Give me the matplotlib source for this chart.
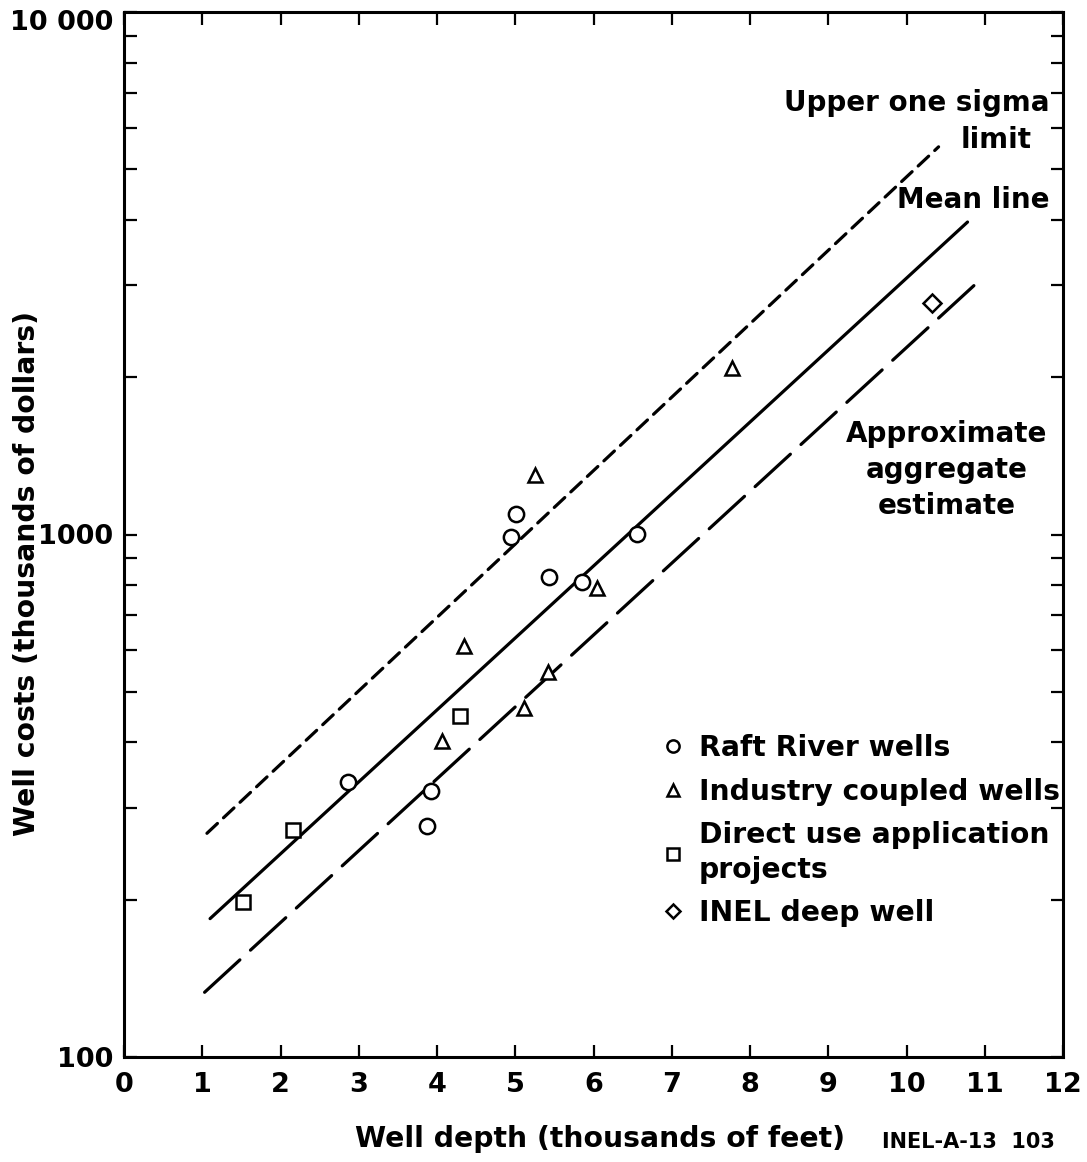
import numpy as np
import matplotlib
matplotlib.use("Agg")
import matplotlib.pyplot as plt
import matplotlib.transforms as mtransforms
from matplotlib.ticker import FixedLocator, NullFormatter

plt.rcParams['font.family'] = ['DejaVu Sans']
plt.rcParams['font.weight'] = 'bold'

# ---- data ----
raft_x = [2.86, 3.92, 3.87, 4.94, 5.01, 5.43, 5.85, 6.56]
raft_y = [336, 323, 277, 989, 1094, 829, 811, 1002]

industry_x = [4.06, 4.34, 5.11, 5.42, 5.25, 6.04, 7.77]
industry_y = [403, 612, 466, 546, 1300, 791, 2083]

direct_x = [1.52, 2.16, 4.29]
direct_y = [198, 272, 450]

inel_x = [10.33]
inel_y = [2774]

upper_x = [1.06, 10.41]
upper_y = [268, 5520]
mean_x = [1.1, 10.78]
mean_y = [184, 3963]
lower_x = [1.03, 10.91]
lower_y = [133, 3041]

x_ticks = list(range(0, 13))
y_major = [100, 1000, 10000]
y_major_labels = ["100", "1000", "10 000"]
y_minor = [200, 300, 400, 500, 600, 700, 800, 900,
           2000, 3000, 4000, 5000, 6000, 7000, 8000, 9000]

# ---- figure ----
W, H = 1087, 1162
fig = plt.figure(figsize=(W / 100, H / 100), dpi=100)
ax = fig.add_axes([124 / W, (H - 1057) / H, 939 / W, 1045 / H])
ax.set_yscale('log')
ax.set_xlim(0, 12)
ax.set_ylim(100, 10000)

lw = 2.3
ax.plot(upper_x, upper_y, color='black', lw=lw, dashes=(4.5, 2.6), dash_capstyle='round')
ax.plot(mean_x, mean_y, color='black', lw=lw, solid_capstyle='round')
ax.plot(lower_x, lower_y, color='black', lw=lw, dashes=(15, 4.5), dash_capstyle='round')

mk = dict(linestyle='none', markerfacecolor='white', markeredgecolor='black', markeredgewidth=1.8)
h1, = ax.plot(raft_x, raft_y, marker='o', markersize=11, label='Raft River wells', **mk)
h2, = ax.plot(industry_x, industry_y, marker='^', markersize=10, label='Industry coupled wells', **mk)
h3, = ax.plot(direct_x, direct_y, marker='s', markersize=10, label='Direct use application\nprojects', **mk)
h4, = ax.plot(inel_x, inel_y, marker='D', markersize=9, label='INEL deep well', **mk)

leg = ax.legend(handles=[h1, h2, h3, h4], loc='upper left',
                bbox_to_anchor=(0.573, 0.309), frameon=False,
                prop={'size': 20.3, 'weight': 'bold'},
                handlelength=0.8, handletextpad=0.5, labelspacing=0.55,
                borderpad=0, borderaxespad=0, markerscale=0.8)
for t in leg.get_texts():
    t.set_linespacing(1.3)

# ticks
ax.set_xticks(x_ticks)
ax.set_xticklabels([str(t) for t in x_ticks])
ax.yaxis.set_major_locator(FixedLocator(y_major))
ax.set_yticklabels(y_major_labels)
ax.yaxis.set_minor_locator(FixedLocator(y_minor))
ax.yaxis.set_minor_formatter(NullFormatter())
ax.tick_params(axis='both', which='both', direction='in', top=True, right=True,
               length=9, width=1.6, labelsize=19.5, color='black')
ax.tick_params(axis='x', pad=10.5)
ax.tick_params(axis='y', pad=8)
ax.tick_params(axis='x', which='minor', top=False, bottom=False)
for s in ax.spines.values():
    s.set_linewidth(2.2)

# the top label sits a little below its tick in the reference
shift = mtransforms.ScaledTranslation(0, -8 / 100, fig.dpi_scale_trans)
top_lbl = ax.get_yticklabels()[2]
top_lbl.set_transform(top_lbl.get_transform() + shift)

# annotations
fs = 20
ax.text(11.83, 6700, 'Upper one sigma', ha='right', va='center', fontsize=fs)
ax.text(11.14, 5690, 'limit', ha='center', va='center', fontsize=fs)
ax.text(11.83, 4366, 'Mean line', ha='right', va='center', fontsize=fs)
ax.text(10.51, 1328, 'Approximate\naggregate\nestimate', ha='center', va='center',
        fontsize=fs, linespacing=1.38)

fig.text(27 / W, 1 - 574 / H, 'Well costs (thousands of dollars)', rotation=90,
         ha='center', va='center', fontsize=20.3)
fig.text(600 / W, 1 - 1139 / H, 'Well depth (thousands of feet)',
         ha='center', va='center', fontsize=20.3)
fig.text(1055 / W, 1 - 1142 / H, 'INEL-A-13  103', ha='right', va='center',
         fontsize=15, fontweight='bold')

fig.savefig('out.png', dpi=100)
